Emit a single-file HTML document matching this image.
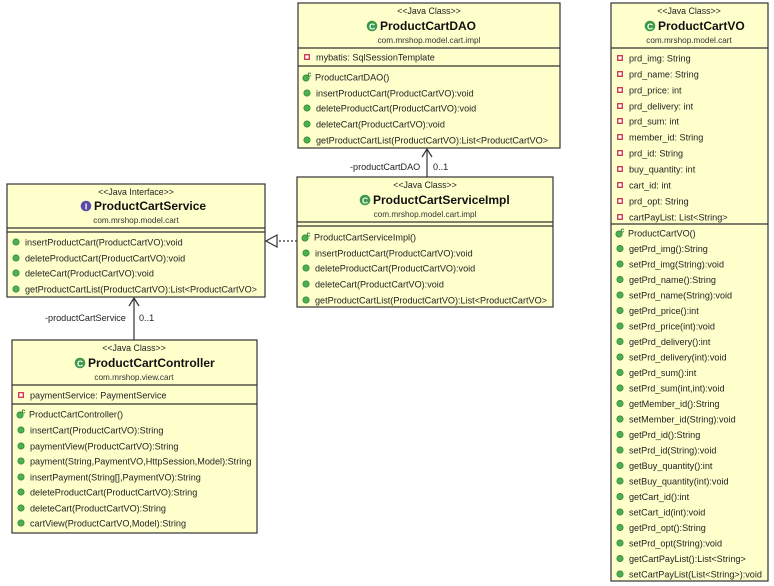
<!DOCTYPE html>
<html><head><meta charset="utf-8"><style>
html,body{margin:0;padding:0;background:#fff;}
svg{display:block;font-family:"Liberation Sans",Arial,sans-serif;}
.b{fill:#ffffcc;stroke:#333;stroke-width:1.2;}
.l{stroke:#333;stroke-width:1.2;}
.t{font-size:9.1px;fill:#222;}
.s{font-size:8.8px;fill:#222;text-anchor:middle;}
.n{font-size:12px;font-weight:bold;fill:#111;}
.p{font-size:8.2px;fill:#333;text-anchor:middle;}
.m{fill:#4caf50;stroke:#2e7d32;stroke-width:0.6;}
.a{fill:#fff;stroke:#d0304a;stroke-width:1.3;}
.c{font-size:7px;fill:#2e7d32;font-weight:bold;}
</style></head><body>
<svg width="774" height="586" viewBox="0 0 774 586">
<defs>
<g id="mi"><circle cx="0" cy="0" r="3.2" class="m"/></g>
<g id="ai"><rect x="-2.3" y="-2.3" width="4.6" height="4.6" class="a"/></g>
<g id="ci"><circle cx="0" cy="1" r="3.2" class="m"/><text x="1.5" y="-0.5" class="c">c</text></g>
<g id="gi"><circle cx="0" cy="0" r="5.3" fill="#3a9a4a"/><text x="0" y="3.4" font-size="8.5" font-weight="bold" fill="#fff" text-anchor="middle">C</text></g>
<g id="ii"><circle cx="0" cy="0" r="5.3" fill="#5a4aa8"/><text x="0" y="3.4" font-size="8.5" font-weight="bold" fill="#fff" text-anchor="middle">I</text></g>
</defs>

<!-- connectors -->
<line x1="427" y1="177" x2="427" y2="149" class="l"/>
<polyline points="422,157 427,149 432,157" fill="none" class="l"/>
<text x="350" y="170" class="t">-productCartDAO</text>
<text x="433" y="170" class="t">0..1</text>

<line x1="297" y1="241" x2="277" y2="241" class="l" stroke-dasharray="2,2"/>
<polygon points="277,235 266,241 277,247" fill="#fff" class="l"/>

<line x1="134" y1="340" x2="134" y2="298" class="l"/>
<polyline points="129,306 134,298 139,306" fill="none" class="l"/>
<text x="45" y="321" class="t">-productCartService</text>
<text x="139" y="321" class="t">0..1</text>

<!-- DAO -->
<rect x="298" y="3" width="262" height="145" class="b"/>
<text x="429" y="14" class="s">&lt;&lt;Java Class&gt;&gt;</text>
<use href="#gi" x="372" y="26"/>
<text x="380" y="30" class="n">ProductCartDAO</text>
<text x="429" y="43" class="p">com.mrshop.model.cart.impl</text>
<line x1="298" y1="48" x2="560" y2="48" class="l"/>
<use href="#ai" x="307" y="57"/><text x="316" y="60.5" class="t">mybatis: SqlSessionTemplate</text>
<line x1="298" y1="66" x2="560" y2="66" class="l"/>
<use href="#ci" x="306" y="77"/><text x="315" y="80.5" class="t">ProductCartDAO()</text>
<use href="#mi" x="307" y="93"/><text x="316" y="96.5" class="t">insertProductCart(ProductCartVO):void</text>
<use href="#mi" x="307" y="108"/><text x="316" y="111.5" class="t">deleteProductCart(ProductCartVO):void</text>
<use href="#mi" x="307" y="124"/><text x="316" y="127.5" class="t">deleteCart(ProductCartVO):void</text>
<use href="#mi" x="307" y="140"/><text x="316" y="143.5" class="t">getProductCartList(ProductCartVO):List&lt;ProductCartVO&gt;</text>

<!-- ServiceImpl -->
<rect x="297" y="177" width="256" height="130" class="b"/>
<text x="425" y="188" class="s">&lt;&lt;Java Class&gt;&gt;</text>
<use href="#gi" x="365" y="200"/>
<text x="373" y="204" class="n">ProductCartServiceImpl</text>
<text x="425" y="217" class="p">com.mrshop.model.cart.impl</text>
<line x1="297" y1="222" x2="553" y2="222" class="l"/>
<line x1="297" y1="226" x2="553" y2="226" class="l"/>
<use href="#ci" x="305" y="237"/><text x="314" y="240.5" class="t">ProductCartServiceImpl()</text>
<use href="#mi" x="306" y="253"/><text x="315" y="256.5" class="t">insertProductCart(ProductCartVO):void</text>
<use href="#mi" x="306" y="268"/><text x="315" y="271.5" class="t">deleteProductCart(ProductCartVO):void</text>
<use href="#mi" x="306" y="284"/><text x="315" y="287.5" class="t">deleteCart(ProductCartVO):void</text>
<use href="#mi" x="306" y="300"/><text x="315" y="303.5" class="t">getProductCartList(ProductCartVO):List&lt;ProductCartVO&gt;</text>

<!-- Service interface -->
<rect x="7" y="184" width="258" height="113" class="b"/>
<text x="136" y="195" class="s">&lt;&lt;Java Interface&gt;&gt;</text>
<use href="#ii" x="86" y="206"/>
<text x="94" y="210" class="n">ProductCartService</text>
<text x="136" y="223" class="p">com.mrshop.model.cart</text>
<line x1="7" y1="228" x2="265" y2="228" class="l"/>
<line x1="7" y1="232" x2="265" y2="232" class="l"/>
<use href="#mi" x="16" y="242"/><text x="25" y="245.5" class="t">insertProductCart(ProductCartVO):void</text>
<use href="#mi" x="16" y="258"/><text x="25" y="261.5" class="t">deleteProductCart(ProductCartVO):void</text>
<use href="#mi" x="16" y="273"/><text x="25" y="276.5" class="t">deleteCart(ProductCartVO):void</text>
<use href="#mi" x="16" y="289"/><text x="25" y="292.5" class="t">getProductCartList(ProductCartVO):List&lt;ProductCartVO&gt;</text>

<!-- Controller -->
<rect x="12" y="340" width="245" height="193" class="b"/>
<text x="134" y="351" class="s">&lt;&lt;Java Class&gt;&gt;</text>
<use href="#gi" x="80" y="363"/>
<text x="88" y="367" class="n">ProductCartController</text>
<text x="134" y="380" class="p">com.mrshop.view.cart</text>
<line x1="12" y1="385" x2="257" y2="385" class="l"/>
<use href="#ai" x="21" y="395"/><text x="30" y="398.5" class="t">paymentService: PaymentService</text>
<line x1="12" y1="404" x2="257" y2="404" class="l"/>
<use href="#ci" x="20" y="414"/><text x="29" y="417.5" class="t">ProductCartController()</text>
<use href="#mi" x="21" y="430"/><text x="30" y="433.5" class="t">insertCart(ProductCartVO):String</text>
<use href="#mi" x="21" y="446"/><text x="30" y="449.5" class="t">paymentView(ProductCartVO):String</text>
<use href="#mi" x="21" y="461"/><text x="30" y="464.5" class="t">payment(String,PaymentVO,HttpSession,Model):String</text>
<use href="#mi" x="21" y="477"/><text x="30" y="480.5" class="t">insertPayment(String[],PaymentVO):String</text>
<use href="#mi" x="21" y="492"/><text x="30" y="495.5" class="t">deleteProductCart(ProductCartVO):String</text>
<use href="#mi" x="21" y="508"/><text x="30" y="511.5" class="t">deleteCart(ProductCartVO):String</text>
<use href="#mi" x="21" y="523"/><text x="30" y="526.5" class="t">cartView(ProductCartVO,Model):String</text>

<!-- VO -->
<rect x="611" y="3" width="157" height="578" class="b"/>
<text x="689" y="14" class="s">&lt;&lt;Java Class&gt;&gt;</text>
<use href="#gi" x="650" y="26"/>
<text x="658" y="30" class="n">ProductCartVO</text>
<text x="689" y="43" class="p">com.mrshop.model.cart</text>
<line x1="611" y1="48" x2="768" y2="48" class="l"/>
<g class="t">
<use href="#ai" x="620" y="58"/><text x="629" y="61.5">prd_img: String</text>
<use href="#ai" x="620" y="74"/><text x="629" y="77.5">prd_name: String</text>
<use href="#ai" x="620" y="90"/><text x="629" y="93.5">prd_price: int</text>
<use href="#ai" x="620" y="106"/><text x="629" y="109.5">prd_delivery: int</text>
<use href="#ai" x="620" y="121"/><text x="629" y="124.5">prd_sum: int</text>
<use href="#ai" x="620" y="137"/><text x="629" y="140.5">member_id: String</text>
<use href="#ai" x="620" y="153"/><text x="629" y="156.5">prd_id: String</text>
<use href="#ai" x="620" y="169"/><text x="629" y="172.5">buy_quantity: int</text>
<use href="#ai" x="620" y="185"/><text x="629" y="188.5">cart_id: int</text>
<use href="#ai" x="620" y="201"/><text x="629" y="204.5">prd_opt: String</text>
<use href="#ai" x="620" y="217"/><text x="629" y="220.5">cartPayList: List&lt;String&gt;</text>
</g>
<line x1="611" y1="224" x2="768" y2="224" class="l"/>
<use href="#ci" x="619" y="233"/><text x="628" y="236.5" class="t">ProductCartVO()</text>
<g class="t">
<use href="#mi" x="620" y="248.5"/><text x="629" y="252">getPrd_img():String</text>
<use href="#mi" x="620" y="264"/><text x="629" y="267.5">setPrd_img(String):void</text>
<use href="#mi" x="620" y="279.5"/><text x="629" y="283">getPrd_name():String</text>
<use href="#mi" x="620" y="295"/><text x="629" y="298.5">setPrd_name(String):void</text>
<use href="#mi" x="620" y="310.5"/><text x="629" y="314">getPrd_price():int</text>
<use href="#mi" x="620" y="326"/><text x="629" y="329.5">setPrd_price(int):void</text>
<use href="#mi" x="620" y="341.5"/><text x="629" y="345">getPrd_delivery():int</text>
<use href="#mi" x="620" y="357"/><text x="629" y="360.5">setPrd_delivery(int):void</text>
<use href="#mi" x="620" y="372.5"/><text x="629" y="376">getPrd_sum():int</text>
<use href="#mi" x="620" y="388"/><text x="629" y="391.5">setPrd_sum(int,int):void</text>
<use href="#mi" x="620" y="403.5"/><text x="629" y="407">getMember_id():String</text>
<use href="#mi" x="620" y="419"/><text x="629" y="422.5">setMember_id(String):void</text>
<use href="#mi" x="620" y="434.5"/><text x="629" y="438">getPrd_id():String</text>
<use href="#mi" x="620" y="450"/><text x="629" y="453.5">setPrd_id(String):void</text>
<use href="#mi" x="620" y="465.5"/><text x="629" y="469">getBuy_quantity():int</text>
<use href="#mi" x="620" y="481"/><text x="629" y="484.5">setBuy_quantity(int):void</text>
<use href="#mi" x="620" y="496.5"/><text x="629" y="500">getCart_id():int</text>
<use href="#mi" x="620" y="512"/><text x="629" y="515.5">setCart_id(int):void</text>
<use href="#mi" x="620" y="527.5"/><text x="629" y="531">getPrd_opt():String</text>
<use href="#mi" x="620" y="543"/><text x="629" y="546.5">setPrd_opt(String):void</text>
<use href="#mi" x="620" y="558.5"/><text x="629" y="562">getCartPayList():List&lt;String&gt;</text>
<use href="#mi" x="620" y="574"/><text x="629" y="577.5">setCartPayList(List&lt;String&gt;):void</text>
</g>
</svg>
</body></html>
